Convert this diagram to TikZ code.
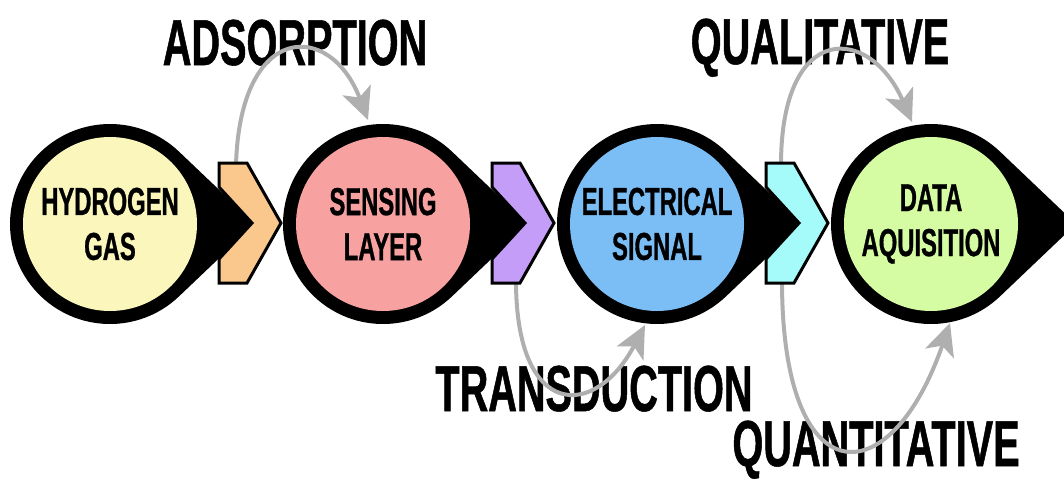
\documentclass[tikz,border=0pt]{standalone}
\usepackage{fontspec}
\usetikzlibrary{arrows.meta}
\newfontfamily\labelfont{Liberation Sans}[FakeStretch=0.61,FakeBold=0.8]

\definecolor{gasfill}{HTML}{FBF6BC}
\definecolor{layerfill}{HTML}{F7A1A1}
\definecolor{signalfill}{HTML}{7ABEF5}
\definecolor{datafill}{HTML}{D5FBA3}
\definecolor{chorange}{HTML}{FAC78D}
\definecolor{chpurple}{HTML}{C39DF7}
\definecolor{chcyan}{HTML}{A5FBFA}
\definecolor{loopgray}{RGB}{175,175,175}

\begin{document}
\begin{tikzpicture}[x=1pt,y=-1pt,
  teardrop/.style={fill=black},
  bubble/.style={circle, inner sep=0pt, minimum size=174pt, align=center,
    text=black, font=\labelfont\bfseries\fontsize{39}{45}\selectfont},
  chevronbox/.style={draw=black, line width=3pt, line join=miter},
  stagelabel/.style={anchor=base, inner sep=0pt, text=black,
    font=\labelfont\bfseries\fontsize{65}{70}\selectfont},
  looparrow/.style={draw=loopgray, line width=4pt,
    -{Stealth[length=32pt,width=30pt,inset=8pt]}},
]
\useasboundingbox (0,0) rectangle (1064,479);

% black pointed rings behind each stage
\foreach \cx in {110,383,657,931}
  \fill[teardrop, shift={(\cx,224)}] (145,0) -- (46.4:100)
    arc[start angle=46.4, end angle=313.6, radius=100] -- cycle;

% stages
\node[bubble, fill=gasfill]    (c1) at (110,224) {HYDROGEN\\GAS};
\node[bubble, fill=layerfill]  (c2) at (383,224) {SENSING\\LAYER};
\node[bubble, fill=signalfill] (c3) at (657,224) {ELECTRICAL\\SIGNAL};
\node[bubble, fill=datafill]   (c4) at (931,224) {DATA\\AQUISITION};

% process labels
\node[stagelabel] (adsorption)   at (295,65)  {ADSORPTION};
\node[stagelabel] (qualitative)  at (820,64)  {QUALITATIVE};
\node[stagelabel] (transduction) at (594,411) {TRANSDUCTION};
\node[stagelabel] (quantitative) at (876,466) {QUANTITATIVE};

% loop ends
\coordinate (adsStart) at (236,165);
\coordinate (adsEnd)   at (368,120);
\coordinate (traStart) at (516,281);
\coordinate (traEnd)   at (645,325);
\coordinate (qlStart)  at (781,165);
\coordinate (qlEnd)    at (912,122);
\coordinate (qnStart)  at (782,281);
\coordinate (qnEnd)    at (950,323);

\draw[looparrow] (adsStart) .. controls +(4,-143) and +(-38,-100) .. (adsEnd);
\draw[looparrow] (traStart) .. controls +(0,139) and +(-50,95) .. (traEnd);
\draw[looparrow] (qlStart) .. controls +(0,-145) and +(-42,-97) .. (qlEnd);
\draw[looparrow] (qnStart) .. controls +(0,216) and +(-60,174) .. (qnEnd);

% chevrons between stages
\foreach \cx/\col in {110/chorange, 383/chpurple, 657/chcyan}
  \filldraw[chevronbox, fill=\col, shift={(\cx,0)}]
    (109,163) -- (137,163) -- (171,223) -- (137,283) -- (109,283)
    -- (109,259) -- (142,223) -- (109,187) -- cycle;
\end{tikzpicture}
\end{document}
